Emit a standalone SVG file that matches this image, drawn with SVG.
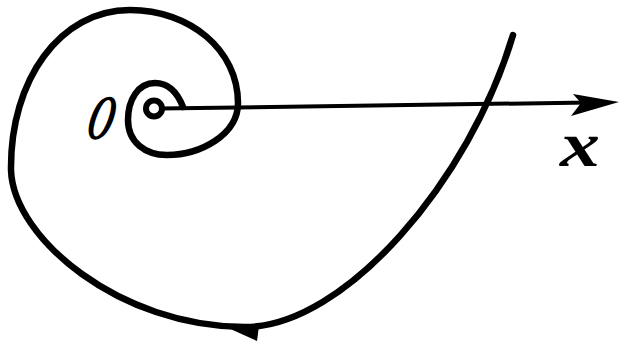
<svg xmlns="http://www.w3.org/2000/svg" width="619" height="342" viewBox="0 0 619 342">
<style>
.curve{fill:none;stroke:#000;stroke-width:6.5;stroke-linecap:round;stroke-linejoin:round}
.axis{fill:none;stroke:#000;stroke-width:4}
.lbl{font-family:"Liberation Serif","DejaVu Serif",serif;font-style:italic;fill:#000}
</style>
<rect width="619" height="342" fill="#fff"/>
<g id="connectors">
<g id="axis-x">
<line class="axis" x1="160" y1="108.5" x2="590" y2="102.5"/>
<polygon points="619,102 573,94 581,103 571,116" fill="#000"/>
</g>
</g>
<g id="spiral">
<path class="curve" d="M183,107 C178,94 170,83 155,83 C138,83 128,100 128,120 C128,142 145,155 167,155 C200,155 238,135 238,103 C238,50 190,10 130,10 C60,10 10,80 11,170 C13,238 120,327 245,327 C345,327 470,180 513,35"/>
<polygon points="226,327 257,341 259,326" fill="#000"/>
</g>
<g id="pole">
<circle cx="154" cy="108.5" r="8" fill="none" stroke="#000" stroke-width="6"/>
</g>
<g id="label-O">
<text class="lbl" transform="translate(97,139) skewX(-14) scale(0.55,1)" font-size="64" font-weight="bold" text-anchor="middle">O</text>
</g>
<g id="label-x">
<text class="lbl" transform="translate(580,166) scale(1.25,1)" font-size="64" font-weight="bold" text-anchor="middle">x</text>
</g>
</svg>
